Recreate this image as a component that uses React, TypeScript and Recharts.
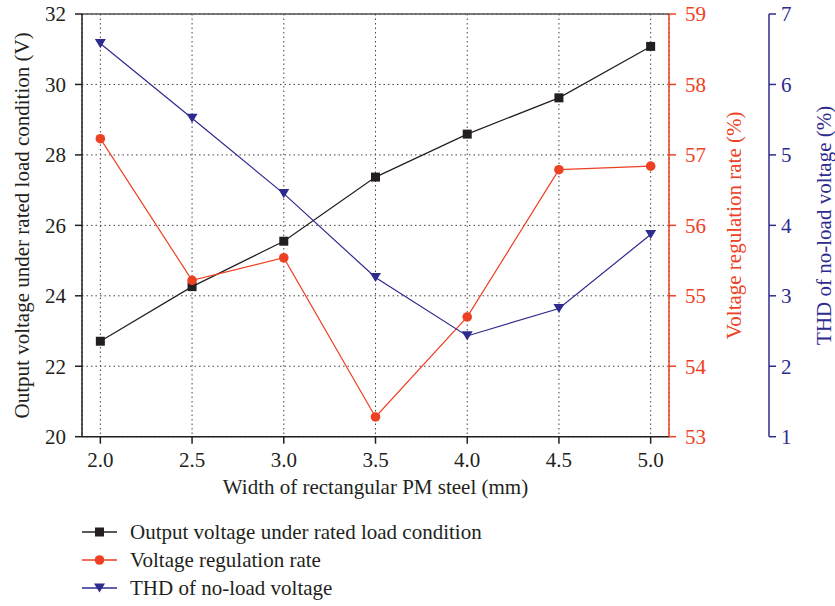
import React from 'react';
import { LineChart, Line, XAxis, YAxis, CartesianGrid, ReferenceLine, Legend } from 'recharts';

const widths = [2.0, 2.5, 3.0, 3.5, 4.0, 4.5, 5.0];
const outputVoltage = [22.71, 24.26, 25.55, 27.37, 28.59, 29.62, 31.08];
const regulationRate = [57.23, 55.22, 55.54, 53.28, 54.7, 56.79, 56.84];
const thdNoLoad = [6.58, 5.52, 4.45, 3.26, 2.43, 2.82, 3.87];

const xTicks = [2.0, 2.5, 3.0, 3.5, 4.0, 4.5, 5.0];
const leftTicks = [20, 22, 24, 26, 28, 30, 32];
const redTicks = [53, 54, 55, 56, 57, 58, 59];
const blueTicks = [1, 2, 3, 4, 5, 6, 7];

const seriesNames = [
  'Output voltage under rated load condition',
  'Voltage regulation rate',
  'THD of no-load voltage',
];

const BLACK = '#231F20';
const RED = '#EE4023';
const BLUE = '#2E2B8E';
const FONT = '"Liberation Serif", "DejaVu Serif", serif';
const FS = 21;

const data = widths.map((w, i) => ({
  w,
  v: outputVoltage[i],
  r: regulationRate[i],
  t: thdNoLoad[i],
}));

const Square = (props: any) => {
  const { cx, cy, index } = props;
  if (cx == null || cy == null) return null;
  return <rect key={`s${index}`} x={cx - 4.5} y={cy - 4.5} width={9} height={9} fill={BLACK} />;
};
const Circle = (props: any) => {
  const { cx, cy, index } = props;
  if (cx == null || cy == null) return null;
  return <circle key={`c${index}`} cx={cx} cy={cy} r={4.8} fill={RED} />;
};
const Tri = (props: any) => {
  const { cx, cy, index } = props;
  if (cx == null || cy == null) return null;
  return (
    <path
      key={`t${index}`}
      d={`M${cx - 5.5},${cy - 4.6} L${cx + 5.5},${cy - 4.6} L${cx},${cy + 4.6} Z`}
      fill={BLUE}
    />
  );
};

const markerFor = [
  (x: number, y: number) => <rect x={x - 4.5} y={y - 4.5} width={9} height={9} fill={BLACK} />,
  (x: number, y: number) => <circle cx={x} cy={y} r={4.8} fill={RED} />,
  (x: number, y: number) => (
    <path d={`M${x - 5.5},${y - 4.6} L${x + 5.5},${y - 4.6} L${x},${y + 4.6} Z`} fill={BLUE} />
  ),
];
const colors = [BLACK, RED, BLUE];

const VTitle = (text: string, cx: number, color: string) => (props: any) => {
  const vb = props.viewBox || {};
  const cy = vb.y + vb.height / 2;
  return (
    <text
      x={cx}
      y={cy}
      transform={`rotate(-90 ${cx} ${cy})`}
      textAnchor="middle"
      dominantBaseline="central"
      fill={color}
      fontFamily={FONT}
      fontSize={FS}
    >
      {text}
    </text>
  );
};

const XTitle = (props: any) => {
  const vb = props.viewBox || {};
  const cx = vb.x + vb.width / 2;
  return (
    <text x={cx} y={vb.y + 57} textAnchor="middle" fill={BLACK} fontFamily={FONT} fontSize={FS}>
      Width of rectangular PM steel (mm)
    </text>
  );
};

const LegendContent = () => (
  <div style={{ position: 'absolute', left: 82, top: 518, fontFamily: FONT, fontSize: FS, color: BLACK }}>
    {seriesNames.map((name, i) => (
      <div key={name} style={{ display: 'flex', alignItems: 'center', height: 28, whiteSpace: 'nowrap' }}>
        <svg width={36} height={20} style={{ display: 'block' }}>
          <line x1={0} y1={10} x2={35} y2={10} stroke={colors[i]} strokeWidth={1.5} />
          {markerFor[i](17.5, 10)}
        </svg>
        <span style={{ marginLeft: 12 }}>{name}</span>
      </div>
    ))}
  </div>
);

const tickStyle = (color: string) => ({ fill: color, fontFamily: FONT, fontSize: FS });

export default function App() {
  return (
    <div style={{ position: 'absolute', left: 0, top: 0, width: 835, height: 606, background: '#fff' }}>
      <LineChart
        width={835}
        height={606}
        data={data}
        margin={{ top: 14, right: 0, bottom: 99.3, left: 0 }}
      >
        <CartesianGrid
          xAxisId="x"
          yAxisId="a_left"
          stroke="#444"
          strokeDasharray="1.5 3"
          strokeWidth={1}
        />
        <XAxis
          xAxisId="x"
          dataKey="w"
          type="number"
          domain={[1.9, 5.1]}
          ticks={xTicks}
          allowDataOverflow
          tickFormatter={(v: number) => v.toFixed(1)}
          height={70}
          stroke={BLACK}
          strokeWidth={1.5}
          tickSize={7}
          tickMargin={8}
          tick={tickStyle(BLACK)}
          label={XTitle}
        />
        <YAxis
          yAxisId="a_left"
          orientation="left"
          domain={[20, 32]}
          ticks={leftTicks}
          allowDataOverflow
          width={82}
          stroke={BLACK}
          strokeWidth={1.5}
          tickSize={7}
          tickMargin={9}
          tick={tickStyle(BLACK)}
          label={VTitle('Output voltage under rated load condition (V)', 22, BLACK)}
        />
        <YAxis
          yAxisId="b_red"
          orientation="right"
          domain={[53, 59]}
          ticks={redTicks}
          allowDataOverflow
          width={100}
          stroke={RED}
          strokeWidth={1.5}
          tickSize={7}
          tickMargin={9}
          tick={tickStyle(RED)}
          label={VTitle('Voltage regulation rate (%)', 734, RED)}
        />
        <YAxis
          yAxisId="c_blue"
          orientation="right"
          domain={[1, 7]}
          ticks={blueTicks}
          allowDataOverflow
          width={66}
          stroke={BLUE}
          strokeWidth={1.5}
          tickSize={7}
          tickMargin={5}
          tick={tickStyle(BLUE)}
          label={VTitle('THD of no-load voltage (%)', 824, BLUE)}
        />
        <ReferenceLine xAxisId="x" yAxisId="a_left" y={32} stroke="#555" strokeWidth={1.5} />
        <Line
          xAxisId="x"
          yAxisId="a_left"
          dataKey="v"
          name={seriesNames[0]}
          stroke={BLACK}
          strokeWidth={1.2}
          dot={Square}
          activeDot={false}
          isAnimationActive={false}
        />
        <Line
          xAxisId="x"
          yAxisId="b_red"
          dataKey="r"
          name={seriesNames[1]}
          stroke={RED}
          strokeWidth={1.2}
          dot={Circle}
          activeDot={false}
          isAnimationActive={false}
        />
        <Line
          xAxisId="x"
          yAxisId="c_blue"
          dataKey="t"
          name={seriesNames[2]}
          stroke={BLUE}
          strokeWidth={1.2}
          dot={Tri}
          activeDot={false}
          isAnimationActive={false}
        />
        <Legend
          content={LegendContent}
          wrapperStyle={{ position: 'absolute', left: 0, top: 0, width: 835, height: 0, overflow: 'visible' }}
        />
      </LineChart>
    </div>
  );
}
